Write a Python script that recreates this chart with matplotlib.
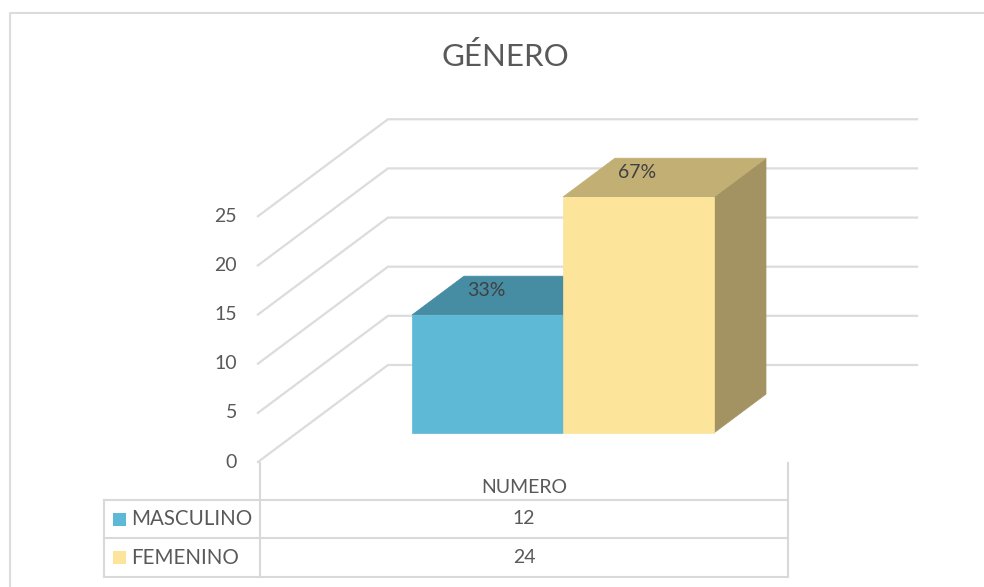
import matplotlib
matplotlib.use("Agg")
import matplotlib.pyplot as plt
from matplotlib.patches import Polygon, Rectangle

plt.rcParams['font.family'] = ['Lato', 'DejaVu Sans']

# ---- data ----
categories = ["MASCULINO", "FEMENINO"]
values = [12, 24]
percent_labels = ["33%", "67%"]
series_name = "NUMERO"
yticks = [0, 5, 10, 15, 20, 25]
title = "GÉNERO"

# ---- styles ----
front_colors = ["#5DB9D6", "#FCE49A"]
top_colors = ["#468CA3", "#C2AF74"]
side_colors = ["#357A8E", "#A39262"]
grid_color = "#DCDCDC"
text_color = "#595959"

W, H = 984, 587
fig = plt.figure(figsize=(W / 100, H / 100), dpi=100)

# pixel-space axes for frame / table
pax = fig.add_axes([0, 0, 1, 1])
pax.set_xlim(0, W)
pax.set_ylim(H, 0)
pax.axis("off")

# data-space axes: x = category units, y = value units (oblique projection for depth)
PX_PER_CAT = 151.0
PX_PER_VAL = 9.83
X0_PX = 373.0   # pixel x of category -0.5 at front (d=0)
Y0_PX = 462.0   # pixel y of value 0 at front (d=0)
DEPTH_PX = (130.0, 97.0)
DX = DEPTH_PX[0] / PX_PER_CAT
DY = DEPTH_PX[1] / PX_PER_VAL

ax = fig.add_axes([0, 0, 1, 1])
ax.set_xlim((0 - X0_PX) / PX_PER_CAT - 0.5, (W - X0_PX) / PX_PER_CAT - 0.5)
ax.set_ylim((Y0_PX - H) / PX_PER_VAL, Y0_PX / PX_PER_VAL)
ax.axis("off")
ax.patch.set_alpha(0)


def P(c, v, d):
    return (c + d * DX, v + d * DY)


C_LEFT, C_RIGHT = -1.262, 2.242
D_FRONT, D_BACK = 0.30, 0.70
BAR_W = 1.0

# walls / gridlines
for t in yticks:
    x1, y1 = P(C_LEFT, t, 0)
    x2, y2 = P(C_LEFT, t, 1)
    x3, y3 = P(C_RIGHT, t, 1)
    ax.plot([x1, x2, x3], [y1, y2, y3], color=grid_color, lw=1.6, zorder=1,
            solid_joinstyle="miter")
    ax.text(x1 - 21 / PX_PER_CAT, y1, str(t), ha="right", va="center",
            fontsize=14, color=text_color)

# bars
for i, (val, fc, tc, sc) in enumerate(zip(values, front_colors, top_colors, side_colors)):
    cl, cr = i - BAR_W / 2, i + BAR_W / 2
    side = [P(cr, 0, D_FRONT), P(cr, 0, D_BACK), P(cr, val, D_BACK), P(cr, val, D_FRONT)]
    top = [P(cl, val, D_FRONT), P(cr, val, D_FRONT), P(cr, val, D_BACK), P(cl, val, D_BACK)]
    front = [P(cl, 0, D_FRONT), P(cr, 0, D_FRONT), P(cr, val, D_FRONT), P(cl, val, D_FRONT)]
    z = 2 + i
    ax.add_patch(Polygon(side, closed=True, facecolor=sc, edgecolor=sc, lw=0.5, zorder=z))
    ax.add_patch(Polygon(top, closed=True, facecolor=tc, edgecolor=tc, lw=0.5, zorder=z))
    ax.add_patch(Polygon(front, closed=True, facecolor=fc, edgecolor=fc, lw=0.5, zorder=z))

for i, (val, lab) in enumerate(zip(values, percent_labels)):
    lx, ly = P(i, val, D_FRONT)
    ax.annotate(lab, (lx, ly), xytext=(-1, 17.5), textcoords="offset points",
                ha="center", va="center", fontsize=14, color="#404040", zorder=10)

# ---- chart frame ----
pax.plot([10, 10, W + 5], [H + 5, 13, 13], color=grid_color, lw=1.5)

# ---- data table ----
tbl_left, tbl_div, tbl_right = 104, 260, 788
row_top, row_ys = 463, [500, 538, 577]
lc = "#D9D9D9"
pax.plot([tbl_div, tbl_div], [row_top, row_ys[-1]], color=lc, lw=1.5)
pax.plot([tbl_right, tbl_right], [row_top, row_ys[-1]], color=lc, lw=1.5)
pax.plot([tbl_left, tbl_left], [row_ys[0], row_ys[-1]], color=lc, lw=1.5)
for yy in row_ys:
    pax.plot([tbl_left, tbl_right], [yy, yy], color=lc, lw=1.5)

pax.text((tbl_div + tbl_right) / 2, (row_top + row_ys[0]) / 2 + 6, series_name,
         ha="center", va="center", fontsize=14, color=text_color)
for k, (cat, val, fc) in enumerate(zip(categories, values, front_colors)):
    yc = (row_ys[k] + row_ys[k + 1]) / 2
    pax.add_patch(Rectangle((113, yc - 6.5), 13, 13, facecolor=fc, edgecolor="none"))
    pax.text(131, yc, cat, ha="left", va="center", fontsize=14.8, color=text_color)
    pax.text((tbl_div + tbl_right) / 2, yc, str(val), ha="center", va="center",
             fontsize=14, color=text_color)

# title
pax.text(505, 57, title, ha="center", va="center", fontsize=22.5, color=text_color)

fig.savefig("out.png", dpi=100)
